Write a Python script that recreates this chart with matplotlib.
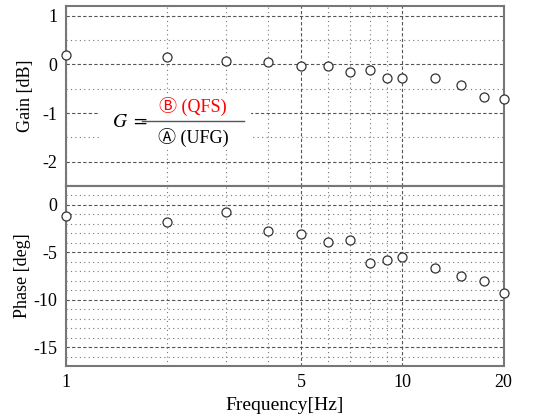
import numpy as np
import matplotlib
matplotlib.use("Agg")
import matplotlib.pyplot as plt
from matplotlib.patches import Rectangle
from matplotlib.ticker import FixedLocator, NullFormatter, MultipleLocator

plt.rcParams['font.family'] = ['Liberation Serif', 'Noto Sans CJK JP', 'DejaVu Sans']
plt.rcParams['mathtext.fontset'] = 'stix'

# measured data
freq = [1, 2, 3, 4, 5, 6, 7, 8, 9, 10, 12.5, 15, 17.5, 20]
gain_db = [0.20, 0.16, 0.075, 0.05, -0.04, -0.035, -0.15, -0.12,
           -0.29, -0.29, -0.27, -0.43, -0.67, -0.71]
phase_deg = [-1.16, -1.75, -0.70, -2.74, -3.05, -3.93, -3.72, -6.14,
             -5.82, -5.47, -6.63, -7.51, -8.0, -9.26]

x_major = [1, 5, 10, 20]
x_minor = [2, 3, 4, 6, 7, 8, 9]

fig = plt.figure(figsize=(5.41, 4.16), dpi=100)
ax1 = fig.add_axes([0.122, 0.5529, 0.8087, 0.4327])
ax2 = fig.add_axes([0.122, 0.1202, 0.8087, 0.4327], sharex=ax1)

for ax in (ax1, ax2):
    ax.set_xscale('log')
    ax.set_xlim(1, 20)
    ax.xaxis.set_major_locator(FixedLocator(x_major))
    ax.xaxis.set_minor_locator(FixedLocator(x_minor))
    ax.xaxis.set_minor_formatter(NullFormatter())
    ax.set_axisbelow(True)
    ax.grid(which='major', color='#555555', linestyle=(0, (3, 2)), linewidth=0.8)
    ax.grid(which='minor', color='#777777', linestyle=(0, (1, 3)), linewidth=0.8)
    ax.tick_params(which='both', length=0, labelsize=13, pad=6)
    for sp in ax.spines.values():
        sp.set_color('#777777')
        sp.set_linewidth(1.5)

# gain panel
ax1.plot(freq, gain_db, linestyle='none', marker='o', markersize=6.5,
         markerfacecolor='white', markeredgecolor='#333333', markeredgewidth=0.9,
         clip_on=False, zorder=3)
ax1.set_ylim(-2.5, 1.2)
ax1.yaxis.set_major_locator(FixedLocator([1, 0, -1, -2]))
ax1.yaxis.set_minor_locator(FixedLocator([0.5, -0.5, -1.5]))
ax1.set_yticklabels(['1', '0', '-1', '-2'])
ax1.set_ylabel('Gain [dB]', fontsize=13, labelpad=6)
plt.setp(ax1.get_xticklabels(), visible=False)

# white box behind the formula
ax1.add_patch(Rectangle((0.078, 0.20), 0.345, 0.30, transform=ax1.transAxes,
                        facecolor='white', edgecolor='none', zorder=1))
ax1.text(0.105, 0.355, r'$G\ =$', transform=ax1.transAxes, fontsize=14,
         ha='left', va='center', zorder=2)
ax1.plot([0.174, 0.407], [0.362, 0.362], transform=ax1.transAxes,
         color='#555555', linewidth=1.0, zorder=2)
ax1.text(0.29, 0.44, 'Ⓑ (QFS)', transform=ax1.transAxes, fontsize=13,
         color='red', ha='center', va='center', zorder=2)
ax1.text(0.29, 0.27, 'Ⓐ (UFG)', transform=ax1.transAxes, fontsize=13,
         color='black', ha='center', va='center', zorder=2)

# phase panel
ax2.plot(freq, phase_deg, linestyle='none', marker='o', markersize=6.5,
         markerfacecolor='white', markeredgecolor='#333333', markeredgewidth=0.9,
         clip_on=False, zorder=3)
ax2.set_ylim(-17, 2)
ax2.yaxis.set_major_locator(FixedLocator([0, -5, -10, -15]))
ax2.yaxis.set_minor_locator(MultipleLocator(1))
ax2.set_yticklabels(['0', '-5', '-10', '-15'])
ax2.set_ylabel('Phase [deg]', fontsize=13, labelpad=2)
ax2.set_xticklabels(['1', '5', '10', '20'])
ax2.set_xlabel('Frequency[Hz]', fontsize=14, labelpad=4)

fig.savefig('out.png', dpi=100)
